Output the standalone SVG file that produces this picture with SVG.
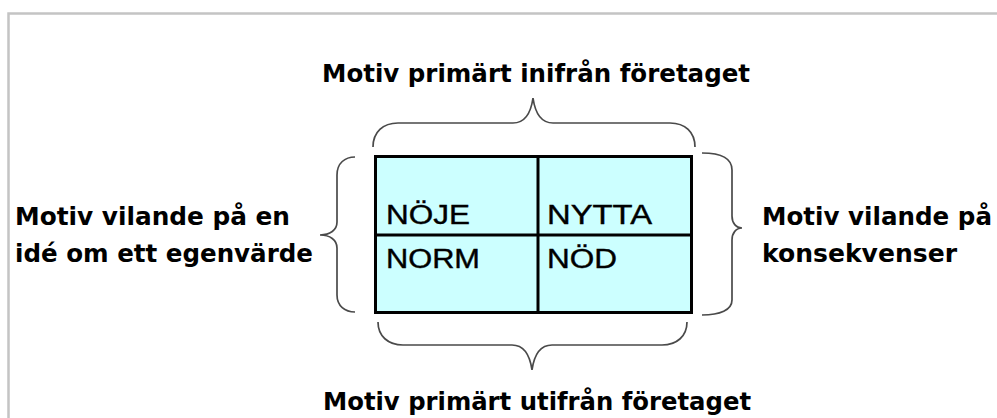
<svg xmlns="http://www.w3.org/2000/svg" width="997" height="418" viewBox="0 0 997 418">
<style>
.frame{fill:none;stroke:#c4c4c4;stroke-width:2.5}
.brace{fill:none;stroke:#4a4a4a;stroke-width:1.7}
.lbl{font-family:"DejaVu Sans","Liberation Sans",sans-serif;font-weight:bold;font-size:25px;fill:#000}
.cell{font-family:"Liberation Sans",Arial,sans-serif;font-size:27px;fill:#000;stroke:#000;stroke-width:0.4}
.grid{fill:#ccffff;stroke:#000;stroke-width:3}
.div{stroke:#000;stroke-width:3}
</style>
<rect width="997" height="418" fill="#fff"/>
<path class="frame" d="M8.5,418 L8.5,13.5 L997,13.5"/>
<g id="title-top"><text class="lbl" x="322" y="82" textLength="428" lengthAdjust="spacingAndGlyphs">Motiv primärt inifrån företaget</text></g>
<g id="title-bottom"><text class="lbl" x="323" y="410" textLength="428" lengthAdjust="spacingAndGlyphs">Motiv primärt utifrån företaget</text></g>
<g id="label-left">
<text class="lbl" x="15" y="225" textLength="275" lengthAdjust="spacingAndGlyphs">Motiv vilande på en</text>
<text class="lbl" x="15" y="262" textLength="298" lengthAdjust="spacingAndGlyphs">idé om ett egenvärde</text>
</g>
<g id="label-right">
<text class="lbl" x="762" y="225" textLength="230" lengthAdjust="spacingAndGlyphs">Motiv vilande på</text>
<text class="lbl" x="762" y="262" textLength="195" lengthAdjust="spacingAndGlyphs">konsekvenser</text>
</g>
<g id="matrix">
<rect class="grid" x="375.5" y="156.5" width="316" height="156"/>
<line class="div" x1="538" y1="156" x2="538" y2="313"/>
<line class="div" x1="375" y1="235" x2="692" y2="235"/>
<text class="cell" x="386" y="224" textLength="84" lengthAdjust="spacingAndGlyphs">NÖJE</text>
<text class="cell" x="547" y="224" textLength="105" lengthAdjust="spacingAndGlyphs">NYTTA</text>
<text class="cell" x="386" y="268" textLength="94" lengthAdjust="spacingAndGlyphs">NORM</text>
<text class="cell" x="547" y="268" textLength="70" lengthAdjust="spacingAndGlyphs">NÖD</text>
</g>
<g id="connectors">
<path class="brace" d="M373,147 C373,132 383,123 398,123 L513,123 C525,123 531,112 533,98 C535,112 541,123 553,123 L670,123 C685,123 695,132 695,147"/>
<path class="brace" d="M378,322 C378,336 388,345 403,345 L512,345 C524,345 530,356 532,370 C534,356 540,345 552,345 L662,345 C677,345 687,336 687,322"/>
<path class="brace" d="M355,157 C345,157 337,163 337,175 L337,222 C337,230 330,235 320,235 C330,235 337,240 337,248 L337,295 C337,306 345,312 355,312"/>
<path class="brace" d="M702,153 C720,153 732,158 732,170 L732,216 C732,223 736,228 742,228 C736,228 732,233 732,240 L732,300 C732,310 720,315 702,315"/>
</g>
</svg>
